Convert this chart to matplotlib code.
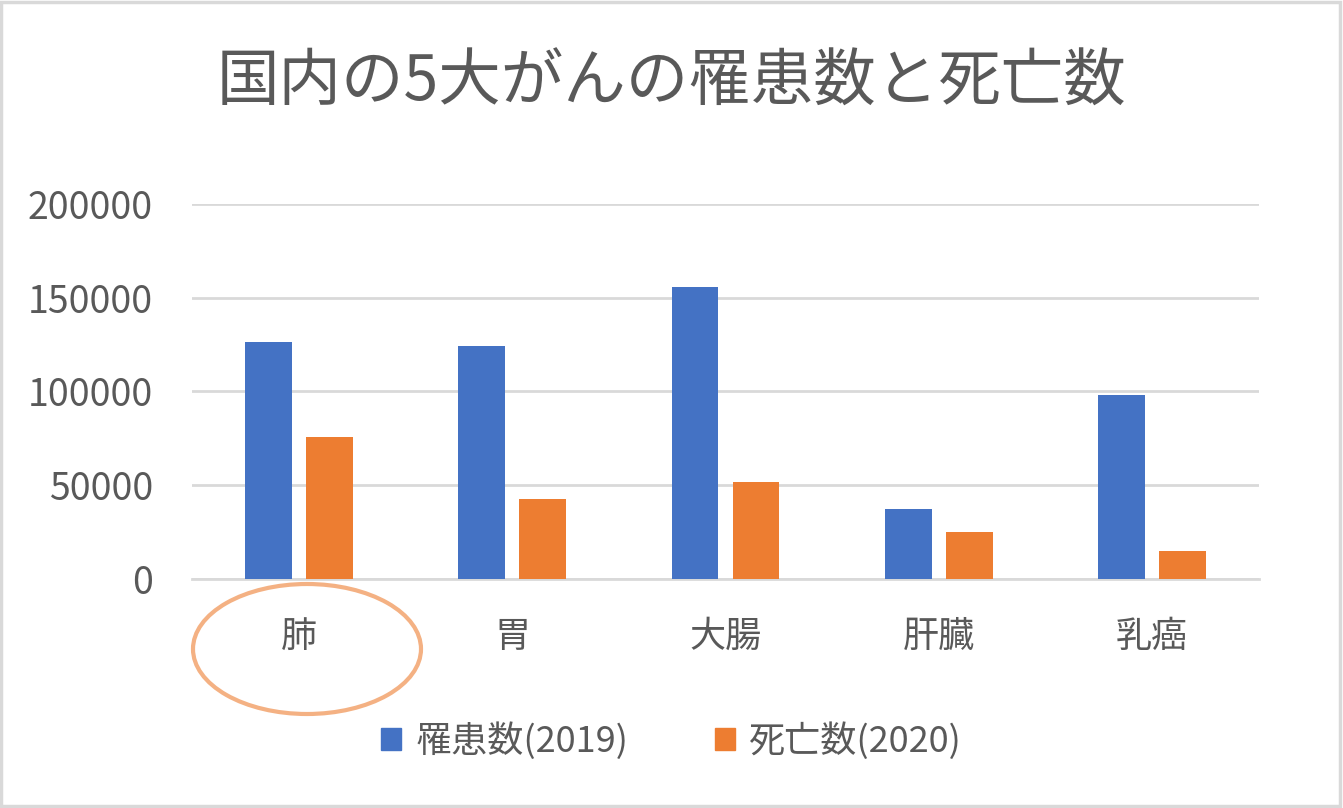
import matplotlib
matplotlib.use('Agg')
import matplotlib.pyplot as plt
from matplotlib.patches import Ellipse, Patch, Rectangle
import numpy as np

plt.rcParams['font.family'] = ['Noto Sans CJK JP', 'DejaVu Sans']

title = '国内の5大がんの罹患数と死亡数'
categories = ['肺', '胃', '大腸', '肝臓', '乳癌']
series_names = ['罹患数(2019)', '死亡数(2020)']
incidence_2019 = [126500, 124300, 155600, 37300, 97800]
deaths_2020 = [75600, 42300, 51800, 24800, 14700]
yticks = [0, 50000, 100000, 150000, 200000]

blue = '#4472C4'
orange = '#ED7D31'
text_col = '#595959'
grid_col = '#D9D9D9'

fig = plt.figure(figsize=(13.43, 8.08), dpi=100)
ax = fig.add_axes([192 / 1343, 1 - 578.5 / 808, (1259 - 192) / 1343, (578.5 - 204) / 808])

x = np.arange(len(categories))
w = 0.22
off = 0.143
ax.bar(x - off, incidence_2019, w, color=blue, zorder=3)
ax.bar(x + off, deaths_2020, w, color=orange, zorder=3)

ax.set_xlim(-0.5, len(categories) - 0.5)
ax.set_ylim(0, 200000)
ax.set_yticks(yticks)
ax.set_yticklabels([str(v) for v in yticks])
ax.set_xticks(x)
ax.set_xticklabels(categories)
ax.tick_params(axis='y', length=0, pad=28, labelsize=27, labelcolor=text_col)
ax.tick_params(axis='x', length=0, pad=29, labelsize=26, labelcolor=text_col)
ax.grid(axis='y', color=grid_col, linewidth=2, zorder=0)
for s in ['top', 'right', 'left']:
    ax.spines[s].set_visible(False)
ax.spines['bottom'].set_color(grid_col)
ax.spines['bottom'].set_linewidth(2)

fig.text(672 / 1343, 1 - 83 / 808, title, ha='center', va='center',
         fontsize=45, color=text_col)

# circle around the lung label
fig.add_artist(Ellipse((307 / 1343, 1 - 649 / 808), 228 / 1343, 130 / 808,
                       transform=fig.transFigure, fill=False,
                       edgecolor='#F4B183', linewidth=3))

handles = [Patch(color=blue), Patch(color=orange)]
fig.legend(handles, series_names, loc='center', bbox_to_anchor=(0.5, 1 - 741 / 808),
           ncol=2, frameon=False, fontsize=26, labelcolor=text_col,
           handlelength=0.55, handleheight=0.55, handletextpad=0.4, columnspacing=2.4)

# outer frame
fig.add_artist(Rectangle((0.001, 0.002), 0.997, 0.995, transform=fig.transFigure,
                         fill=False, edgecolor=grid_col, linewidth=2.5))

fig.savefig('out.png', dpi=100, facecolor='white')
